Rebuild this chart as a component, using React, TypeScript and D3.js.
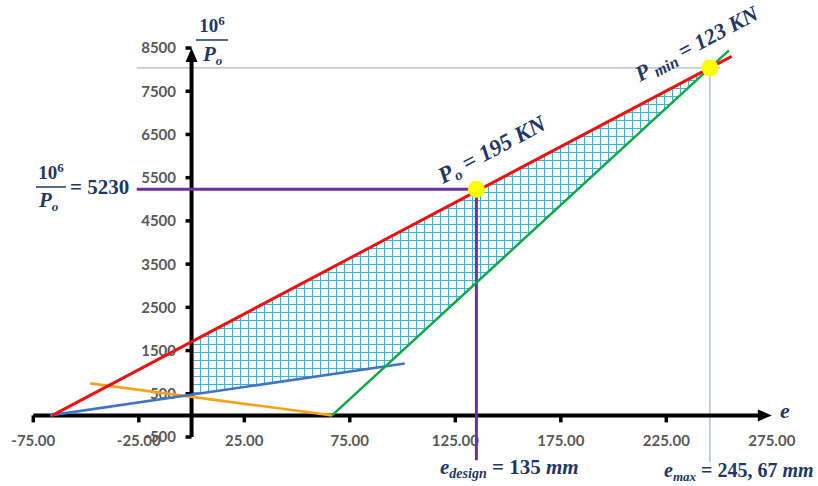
import React from 'react';
import * as d3 from 'd3';

// axis ticks
const xTicks = [-75, -25, 25, 75, 125, 175, 225, 275];
const xTickLabels = ['-75.00', '-25.00', '25.00', '75.00', '125.00', '175.00', '225.00', '275.00'];
const yTicks = [-500, 500, 1500, 2500, 3500, 4500, 5500, 6500, 7500, 8500];

// lines [e, 10^6/P]
const redLine = [[-66, 0], [256, 8307]];
const greenLine = [[66.6, 0], [254.7, 8445]];
const blueLine = [[-67, 0], [101, 1200]];
const orangeLine = [[-48, 740], [66.6, 0]];

// design points
const eDesign = 135;
const invDesign = 5230;
const eMax = 245.67;
const invMin = 8040;

const W = 818;
const H = 486;
const NAVY = '#1f3864';
const SERIF = '"Liberation Serif", "DejaVu Serif", serif';
const SANS = 'Lato, "Liberation Sans", sans-serif';

function lineAt(l: number[][], e: number) {
  const [[x0, y0], [x1, y1]] = l;
  return y0 + ((e - x0) * (y1 - y0)) / (x1 - x0);
}

function intersect(a: number[][], b: number[][]) {
  const sa = (a[1][1] - a[0][1]) / (a[1][0] - a[0][0]);
  const sb = (b[1][1] - b[0][1]) / (b[1][0] - b[0][0]);
  const e = (b[0][1] - a[0][1] + sa * a[0][0] - sb * b[0][0]) / (sa - sb);
  return [e, lineAt(a, e)];
}

export default function App() {
  const x = d3.scaleLinear().domain([-75, 275]).range([33.3, 771.8]);
  const y = d3.scaleLinear().domain([-500, 8500]).range([437, 48]);
  const line = d3.line<number[]>().x(d => x(d[0])).y(d => y(d[1]));

  const x0 = x(0);
  const y0 = y(0);

  const zone = [
    [0, lineAt(blueLine, 0)],
    [0, lineAt(redLine, 0)],
    intersect(redLine, greenLine),
    intersect(blueLine, greenLine),
  ];

  const xEnd = x(275);
  const yTop = y(8500);

  return (
    <svg width={W} height={H} style={{ position: 'absolute', left: 0, top: 0, background: '#fff' }}>
      <defs>
        <pattern id="grid" width={8} height={8} patternUnits="userSpaceOnUse">
          <path d="M0.5 0V8M0 0.5H8" stroke="#3cb4d8" strokeWidth={1.2} fill="none" />
        </pattern>
      </defs>

      {/* hatched zone */}
      <path d={line(zone) + 'Z'} fill="url(#grid)" />

      {/* tick labels */}
      {yTicks.map(t => (
        <text key={t} x={176} y={y(t)} dy="0.36em" textAnchor="end" fontFamily={SANS}
          fontWeight="bold" fontSize={15} fill="#595959">{t}</text>
      ))}
      {xTicks.map((t, i) => (
        <text key={t} x={x(t)} y={446} textAnchor="middle" fontFamily={SANS}
          fontWeight="bold" fontSize={15} fill="#595959">{xTickLabels[i]}</text>
      ))}

      {/* reference lines */}
      <path d={line([[-26, invMin], [250.5, invMin]]) || ''} stroke="#a9b9cc" strokeWidth={1.3} fill="none" />
      <path d={line([[eMax, invMin], [eMax, -1090]]) || ''} stroke="#a9b9cc" strokeWidth={1.3} fill="none" />

      {/* axes */}
      <line x1={x(-75)} x2={xEnd - 10} y1={y0} y2={y0} stroke="#000" strokeWidth={4} />
      <path d={`M${xEnd},${y0} L${xEnd - 14},${y0 - 6} L${xEnd - 14},${y0 + 6}Z`} fill="#000" />
      <line x1={x0} x2={x0} y1={y(-500)} y2={yTop + 10} stroke="#000" strokeWidth={4} />
      <path d={`M${x0},${yTop} L${x0 - 6},${yTop + 14} L${x0 + 6},${yTop + 14}Z`} fill="#000" />
      {xTicks.slice(0, -1).map(t => (
        <line key={t} x1={x(t)} x2={x(t)} y1={y0} y2={y0 + 7} stroke="#000" strokeWidth={3.5} />
      ))}
      {yTicks.map(t => (
        <line key={t} x1={x0 - 6} x2={x0} y1={y(t)} y2={y(t)} stroke="#000" strokeWidth={3.5} />
      ))}

      {/* design lines */}
      <path d={line([[-26, invDesign], [eDesign, invDesign]]) || ''} stroke="#7030a0" strokeWidth={3} fill="none" />
      <path d={line([[eDesign, invDesign], [eDesign, -1040]]) || ''} stroke="#7030a0" strokeWidth={3} fill="none" />

      {/* data lines */}
      <path d={line(orangeLine) || ''} stroke="#f5a31a" strokeWidth={2.6} fill="none" />
      <path d={line(blueLine) || ''} stroke="#4472c4" strokeWidth={2.6} fill="none" />
      <path d={line(greenLine) || ''} stroke="#14a84a" strokeWidth={2.6} fill="none" />
      <path d={line(redLine) || ''} stroke="#ee1111" strokeWidth={3} fill="none" />

      {/* points */}
      <circle cx={x(eDesign)} cy={y(invDesign)} r={8.5} fill="#ffff00" />
      <circle cx={x(eMax)} cy={y(invMin)} r={8.5} fill="#ffff00" />

      {/* annotations */}
      <g fontFamily={SERIF} fontWeight="bold" fontStyle="italic" fill={NAVY}>
        <text transform={`translate(443,184) rotate(-28)`} fontSize={23}>
          P<tspan fontSize={15} dy={4}>o</tspan><tspan dy={-4}> = 195 KN</tspan>
        </text>
        <text transform={`translate(640,82) rotate(-28)`} fontSize={22}>
          P<tspan fontSize={16} dy={4}> min</tspan><tspan dy={-4}> = 123 KN</tspan>
        </text>

        {/* y axis title */}
        <text x={212} y={32} textAnchor="middle" fontSize={19} fontStyle="normal">
          10<tspan fontSize={13} dy={-7}>6</tspan>
        </text>
        <line x1={196} x2={228} y1={40} y2={40} stroke={NAVY} strokeWidth={1.5} />
        <text x={203} y={61} fontSize={21}>
          P<tspan fontSize={13} dy={4}>o</tspan>
        </text>

        {/* left label */}
        <text x={51} y={179} textAnchor="middle" fontSize={19} fontStyle="normal">
          10<tspan fontSize={13} dy={-7}>6</tspan>
        </text>
        <line x1={36} x2={66} y1={187} y2={187} stroke={NAVY} strokeWidth={1.5} />
        <text x={39} y={207} fontSize={21}>
          P<tspan fontSize={13} dy={4}>o</tspan>
        </text>
        <text x={70} y={194} fontSize={21} fontStyle="normal">= 5230</text>

        {/* x axis title */}
        <text x={780} y={418} fontSize={22}>e</text>

        <text x={440} y={474} fontSize={21}>
          e<tspan fontSize={14} dy={4}>design</tspan><tspan dy={-4} fontStyle="normal"> = 135 </tspan><tspan>mm</tspan>
        </text>
        <text x={664} y={477} fontSize={20}>
          e<tspan fontSize={13} dy={4}>max</tspan><tspan dy={-4} fontStyle="normal"> = 245, 67 </tspan><tspan>mm</tspan>
        </text>
      </g>
    </svg>
  );
}
